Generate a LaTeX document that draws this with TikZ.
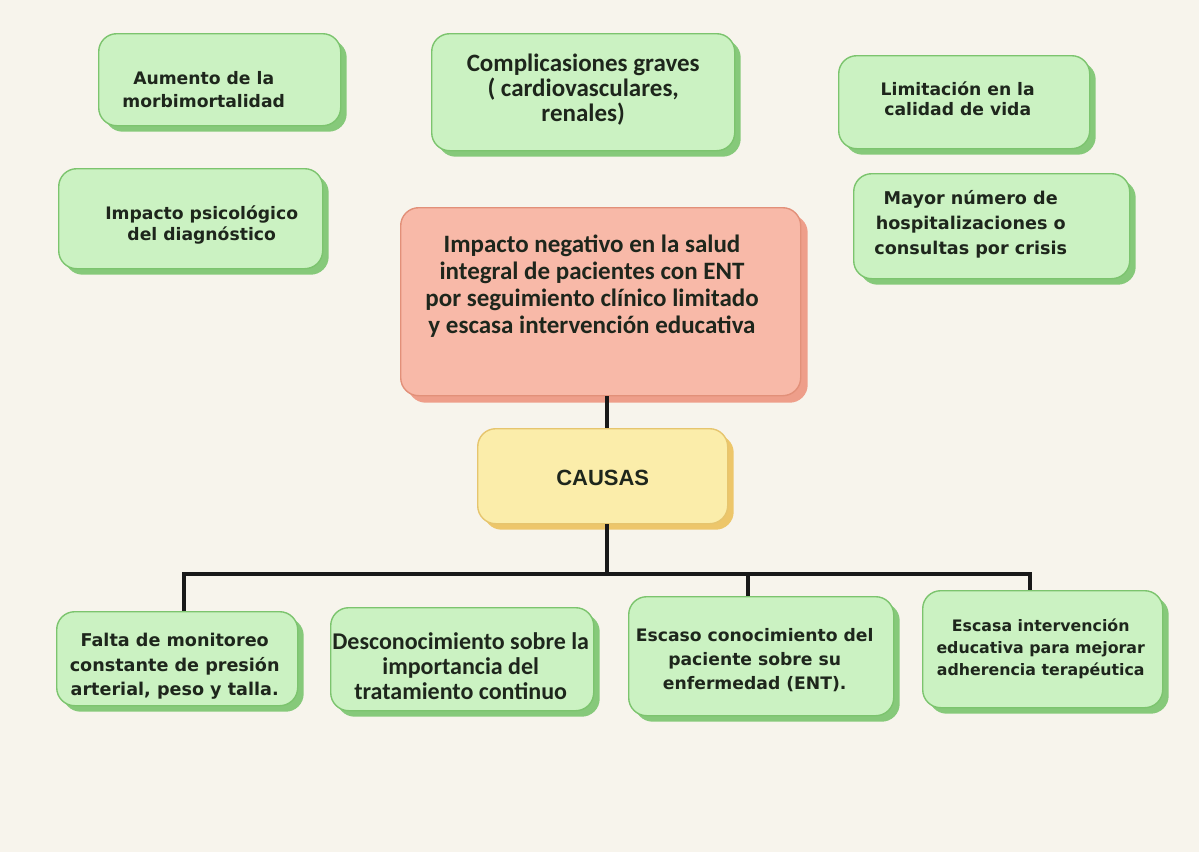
\documentclass[tikz,border=0pt]{standalone}
\usepackage{fontspec}
\setmainfont{Carlito}
\newfontfamily\verd{DejaVu Sans}
\newfontfamily\arial{Liberation Sans}
\usetikzlibrary{shadows}
\definecolor{bgc}{HTML}{F7F4EC}
\definecolor{gfill}{HTML}{CBF2C2}
\definecolor{gdraw}{HTML}{7CC46E}
\definecolor{gshad}{HTML}{86C97A}
\definecolor{rfill}{HTML}{F8B9A8}
\definecolor{rdraw}{HTML}{E29079}
\definecolor{rshad}{HTML}{EE9E8A}
\definecolor{yfill}{HTML}{FBEDAA}
\definecolor{ydraw}{HTML}{E6C56E}
\definecolor{yshad}{HTML}{EDC66A}
\definecolor{txt}{HTML}{1E261C}
\tikzset{
  box/.style={rectangle, rounded corners=18pt, line width=1.4pt, anchor=north west,
    inner sep=0pt},
  gbox/.style={box, fill=gfill, draw=gdraw,
    drop shadow={shadow xshift=6pt, shadow yshift=-6pt, fill=gshad, opacity=1}},
  rbox/.style={box, fill=rfill, draw=rdraw,
    drop shadow={shadow xshift=7pt, shadow yshift=-7pt, fill=rshad, opacity=1}},
  ybox/.style={box, fill=yfill, draw=ydraw,
    drop shadow={shadow xshift=6pt, shadow yshift=-6pt, fill=yshad, opacity=1}},
  lbl/.style={align=center, text=txt, inner sep=0pt},
  vfont/.style 2 args={font=\verd\bfseries\fontsize{#1}{#2}\selectfont},
  cfont/.style 2 args={font=\bfseries\fontsize{#1}{#2}\selectfont},
  conn/.style={draw=black!90, line width=3.2pt},
}
\begin{document}
\begin{tikzpicture}[x=1pt, y=-1pt]
\useasboundingbox (0,0) rectangle (1199,852);
\fill[bgc] (0,0) rectangle (1199,852);

% ---------- top effects ----------
\node[gbox, minimum width=242pt, minimum height=92pt] (a) at (98,33) {};
\node[lbl, vfont={17.2}{23}] (at) at ([xshift=-16pt, yshift=-10pt]a.center)
  {Aumento de la\\morbimortalidad};

\node[gbox, minimum width=264pt, minimum height=100pt] (b) at (58,168) {};
\node[lbl, vfont={17.2}{21}] (bt) at ([xshift=11pt, yshift=-6pt]b.center)
  {Impacto psicológico\\del diagnóstico};

\node[gbox, minimum width=303pt, minimum height=117pt] (c) at (431,33) {};
\node[lbl, cfont={25}{25}] (ct) at ([yshift=3pt]c.center)
  {Complicasiones graves\\( cardiovasculares,\\renales)};

\node[gbox, minimum width=251pt, minimum height=93pt] (d) at (838,55) {};
\node[lbl, vfont={17.2}{20}] (dt) at ([xshift=-6.5pt, yshift=3pt]d.center)
  {Limitación en la\\calidad de vida};

\node[gbox, minimum width=276pt, minimum height=105pt] (e) at (853,173) {};
\node[lbl, vfont={17.6}{25}] (et) at ([xshift=-21pt, yshift=2pt]e.center)
  {Mayor número de\\hospitalizaciones o\\consultas por crisis};

% ---------- central problem ----------
\node[rbox, minimum width=400pt, minimum height=188pt] (p) at (400,207) {};
\node[lbl, cfont={25}{27}] (pt) at (592,286)
  {Impacto negativo en la salud\\integral de pacientes con ENT\\por seguimiento clínico limitado\\y escasa intervención educativa};

% ---------- causes ----------
\node[ybox, minimum width=250pt, minimum height=95pt] (k) at (477,428) {};
\node[lbl, font=\arial\bfseries\fontsize{22}{22}\selectfont] (kt) at ([yshift=-2pt]k.center) {CAUSAS};

\node[gbox, minimum width=241pt, minimum height=94pt] (c1) at (56,611) {};
\node[lbl, vfont={17.6}{24.5}] (c1t) at ([xshift=-2.5pt, yshift=-8pt]c1.center)
  {Falta de monitoreo\\constante de presión\\arterial, peso y talla.};

\node[gbox, minimum width=263pt, minimum height=103pt] (c2) at (330,607) {};
\node[lbl, cfont={24}{25}] (c2t) at ([xshift=-1.5pt, yshift=-6.5pt]c2.center)
  {Desconocimiento sobre la\\importancia del\\tratamiento continuo};

\node[gbox, minimum width=265pt, minimum height=119pt] (c3) at (628,596) {};
\node[lbl, vfont={17.2}{24}] (c3t) at ([xshift=-6.5pt, yshift=-4pt]c3.center)
  {Escaso conocimiento del\\paciente sobre su\\enfermedad (ENT).};

\node[gbox, minimum width=240pt, minimum height=117pt] (c4) at (922,590) {};
\node[lbl, vfont={15.8}{22}] (c4t) at ([xshift=-2pt]c4.center)
  {Escasa intervención\\educativa para mejorar\\adherencia terapéutica};

% ---------- connectors ----------
\coordinate (j) at (607,574);
\coordinate (h1) at (184,574);
\coordinate (h3) at (748,574);
\coordinate (h4) at (1030,574);
\draw[conn] (p.south -| j) -- (k.north -| j);
\draw[conn] (k.south -| j) -- (j);
\draw[conn] (h1 |- c1.north) -- (h1) -- (h4) -- (h4 |- c4.north);
\draw[conn] (h3) -- (h3 |- c3.north);
\end{tikzpicture}
\end{document}
